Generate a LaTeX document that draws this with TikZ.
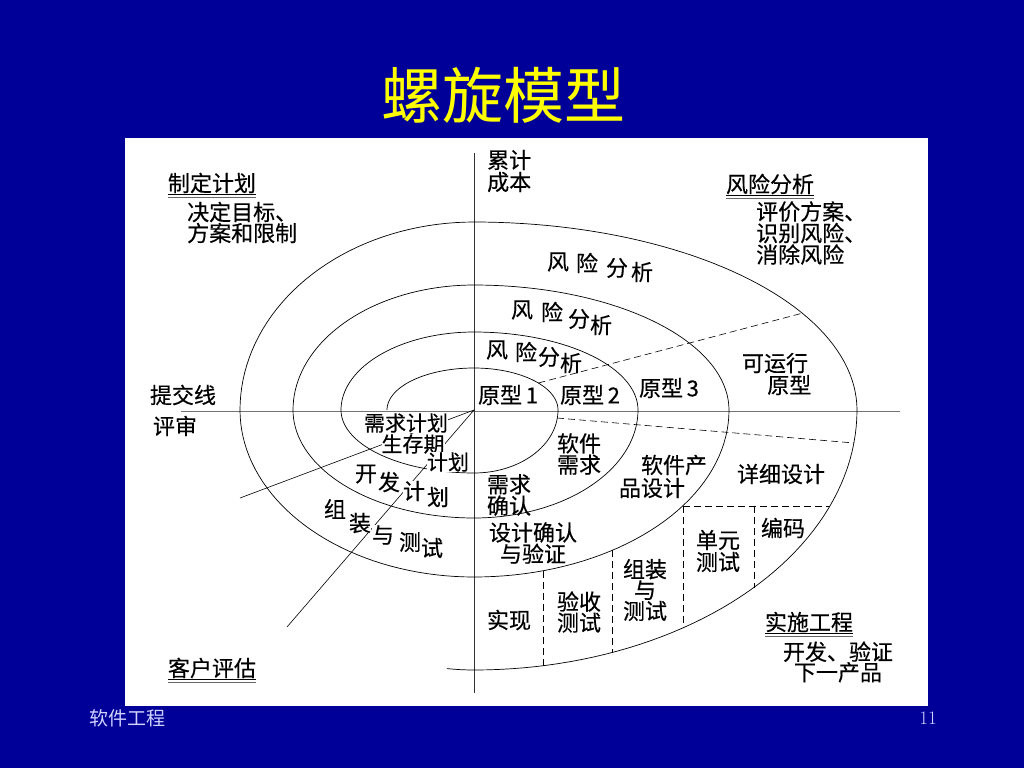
\documentclass[tikz,border=0pt]{standalone}
\usepackage{fontspec}
\newfontfamily\cjk[FakeBold=0.4]{Noto Sans CJK SC}
\newfontfamily\cjkplain{Noto Sans CJK SC}
\definecolor{slidebg}{RGB}{0,0,153}
\definecolor{titleyellow}{RGB}{255,255,0}
\definecolor{footc}{RGB}{210,210,255}
\tikzset{
  lbl/.style={font=\cjk\fontsize{22}{21}\selectfont, inner sep=0pt, align=center},
  lbll/.style={lbl, align=left},
  small/.style={font=\cjk\fontsize{21}{21}\selectfont},
  opaque/.style={fill=white},
  spiral/.style={line width=0.7pt, black},
  dsh/.style={line width=0.6pt, dash pattern=on 7pt off 4pt},
  axisline/.style={line width=0.8pt},
  ulthick/.style={line width=1.3pt},
  ulthin/.style={line width=0.7pt, black!60},
}
\begin{document}
\begin{tikzpicture}[x=1pt,y=-1pt]
\useasboundingbox (0,0) rectangle (1024,768);
\fill[slidebg] (0,0) rectangle (1024,768);
\fill[white] (125,138) rectangle (928,706);

% title and footer
\node[font=\cjkplain\fontsize{61}{61}\selectfont, text=titleyellow, inner sep=0pt] (title) at (503,95) {螺旋模型};
\node[font=\cjkplain\fontsize{19}{19}\selectfont, text=footc, inner sep=0pt] (foot) at (127,718) {软件工程};
\node[font=\fontsize{19}{19}\selectfont, text=footc, inner sep=0pt] (page) at (928,718) {11};

% axes
\coordinate (O) at (474,410);
\coordinate (hl) at (181,411);
\coordinate (hr) at (900,411);
\coordinate (vt) at (474,153);
\coordinate (vb) at (474,693);
\draw[axisline, black!55] (hl) -- (hr);
\draw[axisline, black!80] (vt) -- (vb);

% spiral
\draw[spiral]
  plot[domain=180:90, samples=40] ({474+87*cos(\x)},{410-42*sin(\x)})
  -- plot[domain=90:0, samples=40] ({474+84*cos(\x)},{410-42*sin(\x)})
  -- plot[domain=0:-90, samples=40] ({474+84*cos(\x)},{410-63*sin(\x)})
  -- plot[domain=-90:-180, samples=40] ({474+133*cos(\x)},{410-63*sin(\x)})
  -- plot[domain=180:90, samples=40] ({474+133*cos(\x)},{410-78*sin(\x)})
  -- plot[domain=90:0, samples=40] ({474+164*cos(\x)},{410-78*sin(\x)})
  -- plot[domain=0:-90, samples=40] ({474+164*cos(\x)},{410-108*sin(\x)})
  -- plot[domain=-90:-180, samples=40] ({474+181*cos(\x)},{410-108*sin(\x)})
  -- plot[domain=180:90, samples=40] ({474+181*cos(\x)},{410-125*sin(\x)})
  -- plot[domain=90:0, samples=40] ({474+255*cos(\x)},{410-125*sin(\x)})
  -- plot[domain=0:-90, samples=40] ({474+255*cos(\x)},{410-167*sin(\x)})
  -- plot[domain=-90:-180, samples=40] ({474+234*cos(\x)},{410-167*sin(\x)})
  -- plot[domain=180:90, samples=40] ({474+234*cos(\x)},{410-188*sin(\x)})
  -- plot[domain=90:0, samples=50] ({474+383*cos(\x)},{410-188*sin(\x)})
  -- plot[domain=0:-90, samples=50] ({474+383*cos(\x)},{410-260*sin(\x)})
  -- plot[domain=-90:-96, samples=5] ({474+260*cos(\x)},{410-260*sin(\x)});

% review lines
\coordinate (la) at (240,498);
\coordinate (lb) at (287,627);
\draw[spiral, line width=0.6pt] (O) -- (la);
\draw[spiral, line width=0.6pt] (O) -- (lb);

% dashed lines
\coordinate (d1a) at ({474+84*cos(40)},{410-42*sin(40)});
\coordinate (d1b) at ({474+383*cos(31)},{410-188*sin(31)});
\draw[dsh] (d1a) -- (d1b);
\coordinate (d2a) at (557,418);
\coordinate (d2b) at (854,443);
\draw[dsh] (d2a) -- (d2b);
\coordinate (bx1) at (683,506);
\coordinate (bx2) at (830,506);
\draw[dsh] (bx1) -- (bx2);
\coordinate (v1b) at (683,628);
\draw[dsh] (bx1) -- (v1b);
\coordinate (v2t) at (754,506);
\coordinate (v2b) at (754,588);
\draw[dsh] (v2t) -- (v2b);
\coordinate (v3t) at (612,550);
\coordinate (v3b) at (612,653);
\draw[dsh] (v3t) -- (v3b);
\coordinate (v4t) at (543,571);
\coordinate (v4b) at (543,666);
\draw[dsh] (v4t) -- (v4b);

% quadrant headings
\node[lbl] (plan) at (212,183) {制定计划};
\draw[ulthick] ([yshift=-1pt]plan.south west) -- ([yshift=-1pt]plan.south east);
\draw[ulthin] ([yshift=-3.5pt]plan.south west) -- ([yshift=-3.5pt]plan.south east);
\node[lbll, anchor=west] (plandesc) at (187,222.5) {决定目标、\\方案和限制};

\node[lbll, anchor=west, font=\cjk\fontsize{22}{22}\selectfont] (cost) at (487,171) {累计\\成本};

\node[lbl] (risk) at (770,184) {风险分析};
\draw[ulthick] ([yshift=-1pt]risk.south west) -- ([yshift=-1pt]risk.south east);
\draw[ulthin] ([yshift=-3.5pt]risk.south west) -- ([yshift=-3.5pt]risk.south east);
\node[lbll, anchor=west, font=\cjk\fontsize{22}{20}\selectfont] (riskdesc) at (756,233) {评价方案、\\识别风险、\\消除风险};

\node[lbl] (cust) at (212,668) {客户评估};
\draw[ulthick] ([yshift=-1pt]cust.south west) -- ([yshift=-1pt]cust.south east);
\draw[ulthin] ([yshift=-3.5pt]cust.south west) -- ([yshift=-3.5pt]cust.south east);

\node[lbl] (eng) at (809,622) {实施工程};
\draw[ulthick] ([yshift=-1pt]eng.south west) -- ([yshift=-1pt]eng.south east);
\draw[ulthin] ([yshift=-3.5pt]eng.south west) -- ([yshift=-3.5pt]eng.south east);
\node[lbl, font=\cjk\fontsize{22}{20.5}\selectfont] (engdesc) at (838,662) {开发、验证\\下一产品};

% risk analysis labels (staggered)
\node[lbl] (ra4a) at (558,262) {风};
\node[lbl] (ra4b) at (587,263) {险};
\node[lbl] (ra4c) at (617,268) {分};
\node[lbl] (ra4d) at (642,272) {析};
\node[lbl] (ra3a) at (522,310) {风};
\node[lbl] (ra3b) at (552,312) {险};
\node[lbl] (ra3c) at (579,319) {分};
\node[lbl] (ra3d) at (601,325) {析};
\node[lbl] (ra2a) at (497,350) {风};
\node[lbl] (ra2b) at (526,352) {险};
\node[lbl] (ra2c) at (549,357) {分};
\node[lbl] (ra2d) at (571,363) {析};

% prototypes
\node[lbl] (p1) at (508,395) {原型\,1};
\node[lbl] (p2) at (590,395) {原型\,2};
\node[lbl] (p3) at (669,388) {原型\,3};
\node[lbl, font=\cjk\fontsize{22}{22}\selectfont] (p4) at (775,374) {可运行\\\hspace*{1.3em}原型};

% left side
\node[lbl] (commit) at (183,395) {提交线};
\node[lbl] (review) at (175,426) {评审};
\node[lbl, small, opaque] (reqplan) at (406,423) {需求计划};
\node[lbl, small, opaque] (life) at (413,444) {生存期};
\node[lbl, small, opaque] (lifeb) at (448,462) {计划};
\node[lbl, opaque] (dp1) at (366,474) {开};
\node[lbl, opaque] (dp2) at (389,482) {发};
\node[lbl, opaque] (dp3) at (414,491) {计};
\node[lbl, opaque] (dp4) at (438,497) {划};
\node[lbl, opaque] (it1) at (335,509) {组};
\node[lbl, opaque] (it2) at (360,523) {装};
\node[lbl, opaque] (it3) at (383,535) {与};
\node[lbl, opaque] (it4) at (410,542) {测};
\node[lbl, opaque] (it5) at (432,548) {试};

% lower right
\node[lbl, font=\cjk\fontsize{22}{20}\selectfont] (swreq) at (579,454) {软件\\需求};
\node[lbl, font=\cjk\fontsize{22}{18}\selectfont] (reqv) at (509,495) {需求\\确认};
\node[lbl] (pd1) at (674,465) {软件产};
\node[lbl] (pd2) at (652,488) {品设计};
\node[lbl] (dd) at (781,474) {详细设计};
\node[lbl, font=\cjk\fontsize{22}{20}\selectfont] (dv) at (533,543) {设计确认\\与验证};
\node[lbl] (code) at (783,528) {编码};
\node[lbl, font=\cjk\fontsize{22}{22}\selectfont] (unit) at (718,551) {单元\\测试};
\node[lbl, font=\cjk\fontsize{22}{17.5}\selectfont] (integ) at (645,590) {组装\\与\\测试};
\node[lbl, font=\cjk\fontsize{22}{21}\selectfont] (acc) at (579,612) {验收\\测试};
\node[lbl] (impl) at (509,620) {实现};
\end{tikzpicture}
\end{document}
